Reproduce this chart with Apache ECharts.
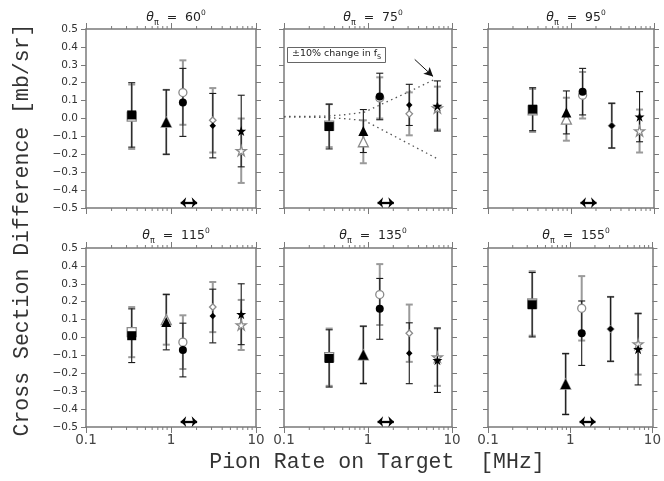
<!DOCTYPE html>
<html>
<head>
<meta charset="utf-8">
<script src="https://cdn.jsdelivr.net/npm/echarts@6/dist/echarts.min.js"></script>
<style>html,body{margin:0;padding:0;background:#fff}#c{width:664px;height:481px}</style>
</head>
<body>
<div id="c"></div>
<script>
// ---------- data ----------
const angles = [60, 75, 95, 115, 135, 155];
const rates = [0.345, 0.88, 1.38, 3.1, 6.7];
const xTickLabels = ['0.1', '1', '10'];
const minorTickVals = [0.2,0.3,0.4,0.5,0.6,0.7,0.8,0.9,2,3,4,5,6,7,8,9];

const filled60 = [0.02, -0.02, 0.09, -0.04, -0.07];
const filledErr60 = [0.18, 0.18, 0.19, 0.18, 0.20];
const open60 = [0.01, -0.02, 0.145, -0.01, -0.18];
const openErr60 = [0.18, 0.18, 0.18, 0.18, 0.18];

const filled75 = [-0.045, -0.07, 0.123, 0.076, 0.07];
const filledErr75 = [0.125, 0.12, 0.13, 0.115, 0.14];
const open75 = [-0.04, -0.13, 0.115, 0.026, 0.058];
const openErr75 = [0.12, 0.12, 0.115, 0.12, 0.12];

const filled95 = [0.052, 0.034, 0.15, -0.04, 0.01];
const filledErr95 = [0.12, 0.12, 0.13, 0.125, 0.14];
const open95 = [0.045, -0.004, 0.13, -0.04, -0.07];
const openErr95 = [0.12, 0.12, 0.13, 0.125, 0.12];

const filled115 = [0.01, 0.086, -0.07, 0.12, 0.13];
const filledErr115 = [0.15, 0.155, 0.15, 0.15, 0.17];
const open115 = [0.03, 0.10, -0.026, 0.17, 0.07];
const openErr115 = [0.14, 0.14, 0.15, 0.14, 0.14];

const filled135 = [-0.117, -0.097, 0.16, -0.088, -0.127];
const filledErr135 = [0.16, 0.16, 0.17, 0.17, 0.18];
const open135 = [-0.11, -0.097, 0.24, 0.024, -0.11];
const openErr135 = [0.16, 0.16, 0.17, 0.16, 0.16];

const filled155 = [0.183, -0.26, 0.024, 0.047, -0.065];
const filledErr155 = [0.18, 0.17, 0.18, 0.18, 0.20];
const open155 = [0.19, -0.26, 0.163, 0.047, -0.037];
const openErr155 = [0.18, 0.17, 0.18, 0.18, 0.17];

// "±10% change in fS" dotted curves (75 deg panel)
const fsUpperX = [0.1, 0.3, 0.5, 0.9, 1.5, 3.0, 6.3];
const fsUpperY = [0.011, 0.013, 0.02, 0.035, 0.083, 0.147, 0.22];
const fsLowerX = [0.1, 0.3, 0.5, 0.9, 1.5, 3.0, 6.7];
const fsLowerY = [0.009, 0.006, 0.0, -0.011, -0.065, -0.139, -0.225];

// rate range indicator (double arrow)
const rateRange = [1.3, 2.03];
const rateRangeY = -0.47;

const panels = [
  {f: filled60, fe: filledErr60, o: open60, oe: openErr60},
  {f: filled75, fe: filledErr75, o: open75, oe: openErr75},
  {f: filled95, fe: filledErr95, o: open95, oe: openErr95},
  {f: filled115, fe: filledErr115, o: open115, oe: openErr115},
  {f: filled135, fe: filledErr135, o: open135, oe: openErr135},
  {f: filled155, fe: filledErr155, o: open155, oe: openErr155}
];

// ---------- style / layout ----------
const STAR = 'path://M50,0L61.2,34.5L97.6,34.5L68.2,55.9L79.4,90.5L50,69.1L20.6,90.5L31.8,55.9L2.4,34.5L38.8,34.5Z';
const shapes = ['rect', 'triangle', 'circle', 'diamond', STAR];
const shapeSizes = [9, 10, 8, 6.5, 10];
const cols = [{left: 86, width: 170}, {left: 284, width: 168}, {left: 488, width: 166}];
const rows = [{top: 29, height: 179}, {top: 248, height: 179}];
const titleTops = [4, 222];
const axisColor = '#7a7a7a';
const grayC = '#9a9a9a';

const grids = [], xAxes = [], yAxes = [], series = [], titles = [];

function errRender(color, lw) {
  return function (params, api) {
    const x = api.value(0), y = api.value(1), e = api.value(2);
    const a = api.coord([x, y + e]);
    const b = api.coord([x, y - e]);
    const h = 3.5;
    const st = {stroke: color, lineWidth: lw, fill: null};
    return {
      type: 'group',
      children: [
        {type: 'line', shape: {x1: a[0], y1: a[1], x2: b[0], y2: b[1]}, style: st},
        {type: 'line', shape: {x1: a[0] - h, y1: a[1], x2: a[0] + h, y2: a[1]}, style: st},
        {type: 'line', shape: {x1: b[0] - h, y1: b[1], x2: b[0] + h, y2: b[1]}, style: st}
      ]
    };
  };
}

function minorRender(params, api) {
  const v = api.value(0);
  const b = api.coord([v, -0.5]);
  const t = api.coord([v, 0.5]);
  const st = {stroke: axisColor, lineWidth: 1};
  return {
    type: 'group',
    children: [
      {type: 'line', shape: {x1: b[0], y1: b[1], x2: b[0], y2: b[1] + 3}, style: st},
      {type: 'line', shape: {x1: t[0], y1: t[1], x2: t[0], y2: t[1] - 3}, style: st}
    ]
  };
}

function fmtY(v) {
  if (Math.abs(v) < 1e-9) return '0.0';
  const s = v.toFixed(1);
  return s.replace('-', '\u2212');
}

panels.forEach((p, i) => {
  const r = Math.floor(i / 3), c = i % 3;
  const showY = c === 0, showX = r === 1;
  grids.push({left: cols[c].left, top: rows[r].top, width: cols[c].width, height: rows[r].height});
  const baseX = {
    type: 'log', logBase: 10, min: 0.1, max: 10, gridIndex: i,
    axisLine: {show: true, onZero: false, lineStyle: {color: axisColor, width: 1.5}},
    axisTick: {show: true, inside: false, length: 6, lineStyle: {color: axisColor, width: 1}},
    splitLine: {show: false}, minorTick: {show: false}, minorSplitLine: {show: false}
  };
  xAxes.push(Object.assign({}, baseX, {
    position: 'bottom',
    axisLabel: {show: showX, margin: 6, fontFamily: 'DejaVu Sans', fontSize: 13.5, color: '#444',
      formatter: v => v < 0.5 ? xTickLabels[0] : (v < 5 ? xTickLabels[1] : xTickLabels[2])}
  }));
  xAxes.push(Object.assign({}, baseX, {position: 'top', axisLabel: {show: false}}));
  const baseY = {
    type: 'value', min: -0.5, max: 0.5, interval: 0.1, gridIndex: i,
    axisLine: {show: true, onZero: false, lineStyle: {color: axisColor, width: 1.5}},
    axisTick: {show: true, inside: false, length: 5, lineStyle: {color: axisColor, width: 1}},
    splitLine: {show: false}
  };
  yAxes.push(Object.assign({}, baseY, {
    position: 'left',
    axisLabel: {show: showY, margin: 8, fontFamily: 'DejaVu Sans', fontSize: 10.5, color: '#333', formatter: fmtY}
  }));
  yAxes.push(Object.assign({}, baseY, {position: 'right', axisLabel: {show: false}}));

  const xi = 2 * i, yi = 2 * i;
  // minor ticks
  series.push({type: 'custom', xAxisIndex: xi, yAxisIndex: yi, clip: false, silent: true, z: 1,
    renderItem: minorRender, data: minorTickVals.map(v => [v, 0])});
  // gray (open) error bars
  series.push({type: 'custom', xAxisIndex: xi, yAxisIndex: yi, z: 2, silent: true,
    renderItem: errRender(grayC, 2), data: rates.map((x, k) => [x, p.o[k], p.oe[k]])});
  // black (filled) error bars
  series.push({type: 'custom', xAxisIndex: xi, yAxisIndex: yi, z: 3, silent: true,
    renderItem: errRender('#1a1a1a', 1.1), data: rates.map((x, k) => [x, p.f[k], p.fe[k]])});
  // open markers
  series.push({type: 'scatter', xAxisIndex: xi, yAxisIndex: yi, z: 4, silent: true,
    itemStyle: {color: '#fff', borderColor: '#8a8a8a', borderWidth: 1.3, opacity: 1},
    data: rates.map((x, k) => ({value: [x, p.o[k]], symbol: shapes[k], symbolSize: shapeSizes[k]}))});
  // filled markers + rate range arrow
  series.push({type: 'scatter', xAxisIndex: xi, yAxisIndex: yi, z: 5, silent: true,
    itemStyle: {color: '#000', opacity: 1},
    data: rates.map((x, k) => ({value: [x, p.f[k]], symbol: shapes[k], symbolSize: shapeSizes[k]})),
    markLine: {silent: true, symbol: ['arrow', 'arrow'], symbolSize: [8, 5.5], animation: false,
      lineStyle: {color: '#000', width: 2.3, type: 'solid'}, label: {show: false},
      data: [[{coord: [rateRange[0], rateRangeY]}, {coord: [rateRange[1], rateRangeY]}]]}
  });

  titles.push({
    text: '{t|θ}{s|π}{n|  =  ' + angles[i] + '}{p|0}',
    left: cols[c].left + cols[c].width / 2, top: titleTops[r], textAlign: 'center',
    textStyle: {fontWeight: 'normal', rich: {
      t: {fontFamily: 'DejaVu Sans', fontStyle: 'italic', fontWeight: 'normal', fontSize: 12.5, color: '#222', lineHeight: 18},
      s: {fontFamily: 'DejaVu Sans', fontWeight: 'normal', fontSize: 8, color: '#222', verticalAlign: 'bottom', lineHeight: 18},
      n: {fontFamily: 'DejaVu Sans', fontWeight: 'normal', fontSize: 12.5, color: '#222', lineHeight: 18},
      p: {fontFamily: 'DejaVu Sans', fontWeight: 'normal', fontSize: 7.5, color: '#222', verticalAlign: 'top', lineHeight: 18}
    }}
  });
});

// fS dotted curves in the 75-degree panel
series.push({type: 'line', xAxisIndex: 2, yAxisIndex: 2, z: 1, symbol: 'none', silent: true,
  lineStyle: {color: '#555', width: 1.3, type: [1.5, 3.5]},
  data: fsUpperX.map((x, k) => [x, fsUpperY[k]]),
  markLine: {silent: true, animation: false, symbolSize: [7, 9],
    lineStyle: {color: '#111', width: 1, type: 'solid'}, label: {show: false},
    data: [[{coord: [3.6, 0.33], symbol: 'none'}, {coord: [5.95, 0.235], symbol: 'arrow'}]]}
});
series.push({type: 'line', xAxisIndex: 2, yAxisIndex: 2, z: 1, symbol: 'none', silent: true,
  lineStyle: {color: '#555', width: 1.3, type: [1.5, 3.5]},
  data: fsLowerX.map((x, k) => [x, fsLowerY[k]])});

titles.push({
  text: '{a|±10% change in f}{s|S}',
  left: 287, top: 45, borderColor: '#666', borderWidth: 1, padding: [2, 5, 2, 5],
  textStyle: {fontWeight: 'normal', rich: {
    a: {fontFamily: 'DejaVu Sans', fontWeight: 'normal', fontSize: 9.5, color: '#222', lineHeight: 14},
    s: {fontFamily: 'DejaVu Sans', fontWeight: 'normal', fontSize: 6.5, color: '#222', verticalAlign: 'bottom', lineHeight: 14}
  }}
});

const chart = echarts.init(document.getElementById('c'), null, {renderer: 'canvas'});
chart.setOption({
  animation: false,
  backgroundColor: '#fff',
  title: titles,
  grid: grids,
  xAxis: xAxes,
  yAxis: yAxes,
  series: series,
  graphic: [
    {type: 'text', x: 22, y: 230, rotation: Math.PI / 2,
      style: {text: 'Cross Section Difference [mb/sr]', fontFamily: 'Liberation Mono', fontSize: 21.5,
        fill: '#333', align: 'center', verticalAlign: 'middle'}},
    {type: 'text', x: 377, y: 462,
      style: {text: 'Pion Rate on Target  [MHz]', fontFamily: 'Liberation Mono', fontSize: 21.5,
        fill: '#333', align: 'center', verticalAlign: 'middle'}}
  ]
});
</script>
</body>
</html>
